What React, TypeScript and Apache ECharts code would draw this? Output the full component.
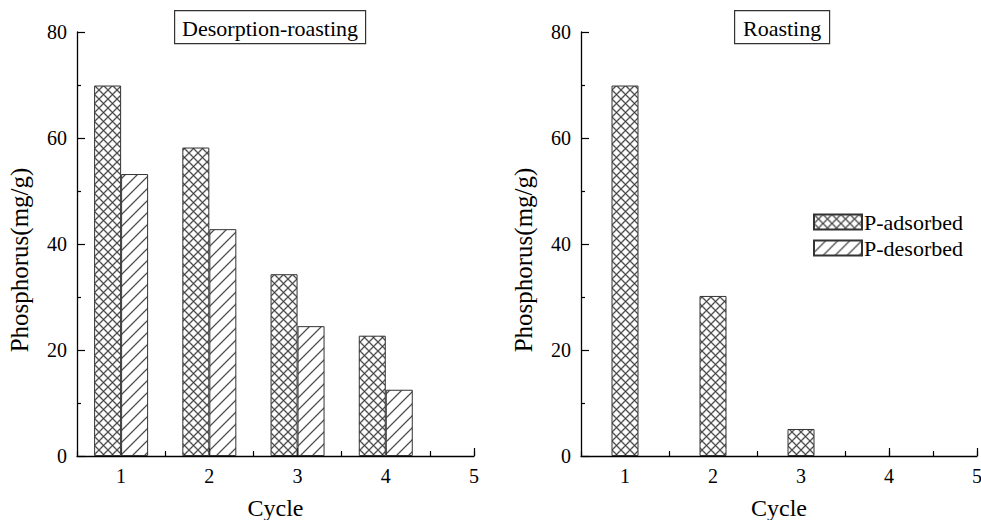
import React, { useEffect, useRef } from "react";
import * as echarts from "echarts";

const cycles = [1, 2, 3, 4];
const drAdsorbed = [69.9, 58.2, 34.3, 22.7];
const drDesorbed = [53.2, 42.8, 24.5, 12.5];
const roastCycles = [1, 2, 3];
const roastAdsorbed = [69.9, 30.2, 5.1];
const xTickValues = ["0.5", "1", "1.5", "2", "2.5", "3", "3.5", "4", "4.5", "5"];
const seriesNames = ["P-adsorbed", "P-desorbed"];
const panelTitles = ["Desorption-roasting", "Roasting"];

const FONT = "Liberation Serif";

function makePattern(kind: "cross" | "hatch") {
  const scale = 3;
  const period = kind === "cross" ? 9 : 12;
  const S = period * scale;
  const c = document.createElement("canvas");
  c.width = S;
  c.height = S;
  const ctx = c.getContext("2d")!;
  ctx.fillStyle = "#ffffff";
  ctx.fillRect(0, 0, S, S);
  ctx.strokeStyle = "#2a2a2a";
  ctx.lineWidth = 1.1 * scale;
  for (const off of [-S, 0, S]) {
    ctx.beginPath();
    ctx.moveTo(off - 2, S + 2);
    ctx.lineTo(off + S + 2, -2);
    ctx.stroke();
    if (kind === "cross") {
      ctx.beginPath();
      ctx.moveTo(off - 2, -2);
      ctx.lineTo(off + S + 2, S + 2);
      ctx.stroke();
    }
  }
  return {
    image: c.toDataURL(),
    repeat: "repeat",
    imageWidth: period,
    imageHeight: period,
  } as any;
}

export default function App() {
  const ref = useRef<HTMLDivElement>(null);
  useEffect(() => {
    if (!ref.current) return;
    const chart = echarts.init(ref.current, null, { renderer: "svg" });
    const cross = makePattern("cross");
    const hatch = makePattern("hatch");
    const textBase = { fontFamily: FONT, color: "#000" };

    const grids = [
      { left: 77, top: 32, width: 397, height: 424, containLabel: false, outerBoundsMode: "none" },
      { left: 581, top: 32, width: 396, height: 424, containLabel: false, outerBoundsMode: "none" },
    ];

    const xAxes: any[] = [];
    const yAxes: any[] = [];
    grids.forEach((_, gi) => {
      xAxes.push({
        type: "value",
        gridIndex: gi,
        position: "bottom",
        min: 0.5,
        max: 5,
        interval: 0.5,
        axisLine: { show: true, lineStyle: { color: "#000", width: 1.3 } },
        axisTick: { show: true, inside: true, length: 5, lineStyle: { color: "#000", width: 1.2 } },
        axisLabel: { show: false },
        splitLine: { show: false },
      });
      xAxes.push({
        type: "category",
        gridIndex: gi,
        position: "bottom",
        data: xTickValues,
        boundaryGap: false,
        axisLine: { show: false },
        axisTick: {
          show: true,
          inside: true,
          length: 8,
          interval: (i: number, v: string) => Number.isInteger(Number(v)),
          lineStyle: { color: "#000", width: 1.2 },
        },
        axisLabel: {
          interval: 0,
          margin: 10,
          formatter: (v: string) => (Number.isInteger(Number(v)) ? v : ""),
          ...textBase,
          fontSize: 20,
        },
        name: "Cycle",
        nameLocation: "middle",
        nameGap: 40,
        nameTextStyle: { ...textBase, fontSize: 24 },
        splitLine: { show: false },
      });
      yAxes.push({
        type: "value",
        gridIndex: gi,
        min: 0,
        max: 80,
        interval: 20,
        axisLine: { show: true, lineStyle: { color: "#000", width: 1.3 } },
        axisTick: { show: true, inside: true, length: 8, lineStyle: { color: "#000", width: 1.2 } },
        minorTick: { show: true, splitNumber: 2, length: 4, lineStyle: { color: "#000", width: 1.2 } },
        axisLabel: { margin: 10, ...textBase, fontSize: 20 },
        splitLine: { show: false },
        minorSplitLine: { show: false },
        name: "Phosphorus(mg/g)",
        nameLocation: "middle",
        nameGap: 45,
        nameTextStyle: { ...textBase, fontSize: 25, padding: [0, 32, 0, 0] },
      });
    });

    const barStyle = (pattern: any) => ({
      color: pattern,
      borderColor: "#333",
      borderWidth: 1,
    });

    const titleBoxes = [
      { x: 174, y: 10, w: 191, h: 33, text: panelTitles[0] },
      { x: 734, y: 10, w: 95, h: 33, text: panelTitles[1] },
    ];

    chart.setOption({
      animation: false,
      backgroundColor: "#fff",
      grid: grids,
      xAxis: xAxes,
      yAxis: yAxes,
      legend: {
        data: seriesNames,
        orient: "vertical",
        left: 808,
        top: 206,
        itemWidth: 48,
        itemHeight: 15,
        itemGap: 4,
        icon: "rect",
        selectedMode: false,
        textStyle: { ...textBase, fontSize: 22, lineHeight: 15, padding: [0, 0, 0, -3] },
      },
      graphic: titleBoxes.map((b) => ({
        type: "group",
        left: b.x,
        top: b.y,
        children: [
          {
            type: "rect",
            shape: { x: 0, y: 0, width: b.w, height: b.h },
            style: { fill: "#fff", stroke: "#333", lineWidth: 1.2 },
          },
          {
            type: "text",
            x: b.w / 2,
            y: b.h / 2 + 1,
            style: {
              text: b.text,
              fontFamily: FONT,
              fontSize: 22,
              fill: "#000",
              align: "center",
              verticalAlign: "middle",
            },
          },
        ],
      })),
      series: [
        {
          name: seriesNames[0],
          type: "bar",
          xAxisIndex: 0,
          yAxisIndex: 0,
          barWidth: 27,
          barGap: "0%",
          data: cycles.map((c, i) => [c, drAdsorbed[i]]),
          itemStyle: barStyle(cross),
        },
        {
          name: seriesNames[1],
          type: "bar",
          xAxisIndex: 0,
          yAxisIndex: 0,
          barWidth: 27,
          barGap: "0%",
          data: cycles.map((c, i) => [c, drDesorbed[i]]),
          itemStyle: barStyle(hatch),
        },
        {
          name: seriesNames[0],
          type: "bar",
          xAxisIndex: 2,
          yAxisIndex: 1,
          barWidth: 27,
          data: roastCycles.map((c, i) => [c, roastAdsorbed[i]]),
          itemStyle: barStyle(cross),
        },
      ],
    });
    return () => chart.dispose();
  }, []);
  return <div ref={ref} style={{ width: 981, height: 520, position: "absolute", left: 0, top: 0 }} />;
}
